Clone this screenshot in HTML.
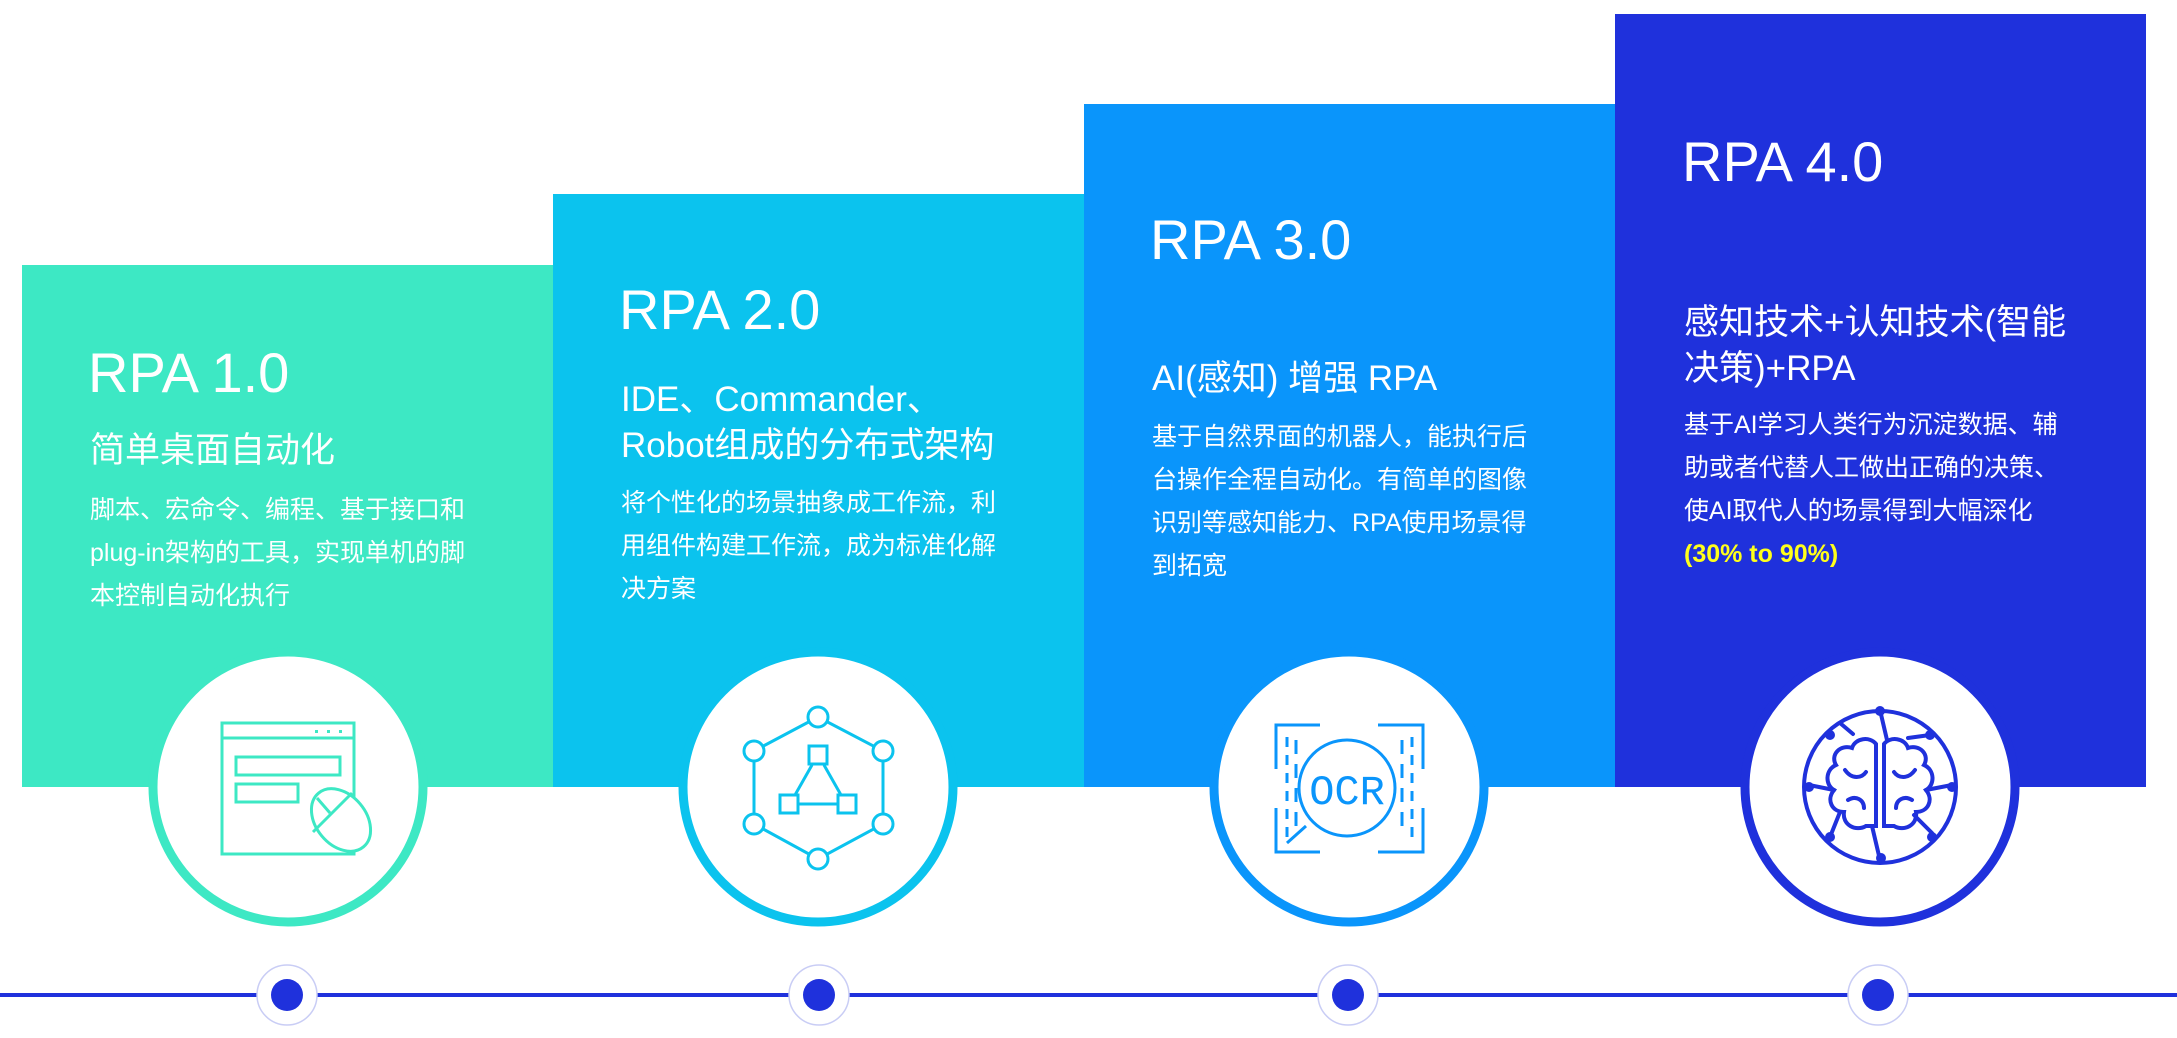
<!DOCTYPE html>
<html><head><meta charset="utf-8"><style>
body{margin:0;width:2177px;height:1038px;background:#fff;position:relative;overflow:hidden;font-family:"Liberation Sans","Noto Sans CJK SC",sans-serif;color:#fff}
.b{position:absolute}
.t{position:absolute;white-space:nowrap}
.h{font-size:56px;line-height:56px}
.s{font-size:35px;line-height:46px}
.p{font-size:25px;line-height:43px}
</style></head><body>
<div class="b" style="left:22px;top:265px;width:531px;height:522px;background:#3de8c4"></div>
<div class="b" style="left:553px;top:194px;width:531px;height:593px;background:#0bc3ee"></div>
<div class="b" style="left:1084px;top:104px;width:531px;height:683px;background:#0a95fb"></div>
<div class="b" style="left:1615px;top:14px;width:531px;height:773px;background:#1f31dc"></div>

<div class="t h" style="left:88px;top:345px">RPA 1.0</div>
<div class="t s" style="left:90px;top:428px">简单桌面自动化</div>
<div class="t p" style="left:90px;top:489px">脚本、宏命令、编程、基于接口和<br>plug-in架构的工具，实现单机的脚<br>本控制自动化执行</div>

<div class="t h" style="left:619px;top:282px">RPA 2.0</div>
<div class="t s" style="left:621px;top:377px">IDE、Commander、<br>Robot组成的分布式架构</div>
<div class="t p" style="left:621px;top:482px">将个性化的场景抽象成工作流，利<br>用组件构建工作流，成为标准化解<br>决方案</div>

<div class="t h" style="left:1150px;top:212px">RPA 3.0</div>
<div class="t s" style="left:1152px;top:356px">AI(感知) 增强 RPA</div>
<div class="t p" style="left:1152px;top:416px">基于自然界面的机器人，能执行后<br>台操作全程自动化。有简单的图像<br>识别等感知能力、RPA使用场景得<br>到拓宽</div>

<div class="t h" style="left:1682px;top:134px">RPA 4.0</div>
<div class="t s" style="left:1684px;top:300px">感知技术+认知技术(智能<br>决策)+RPA</div>
<div class="t p" style="left:1684px;top:404px">基于AI学习人类行为沉淀数据、辅<br>助或者代替人工做出正确的决策、<br>使AI取代人的场景得到大幅深化<br><b style="color:#ffff1a">(30% to 90%)</b></div>

<svg class="b" style="left:0;top:0" width="2177" height="1038" viewBox="0 0 2177 1038">
<g fill="#fff" stroke-width="9">
<circle cx="288" cy="787" r="135" stroke="#3de8c4"/>
<circle cx="818" cy="787" r="135" stroke="#0bc3ee"/>
<circle cx="1349" cy="787" r="135" stroke="#0a95fb"/>
<circle cx="1880" cy="787" r="135" stroke="#1f31dc"/>
</g>
<!-- icon1 -->
<g fill="none" stroke="#3de8c4" stroke-width="3">
<rect x="222" y="723" width="132" height="131"/>
<line x1="222" y1="738" x2="354" y2="738"/>
<rect x="236" y="757" width="104" height="18"/>
<rect x="236" y="784" width="62" height="18"/>
<ellipse cx="341" cy="820" rx="35" ry="25" transform="rotate(50 341 820)" fill="#fff"/>
<line x1="313" y1="832" x2="352" y2="793"/><line x1="317" y1="798" x2="330" y2="813"/>
</g>
<g fill="#3de8c4"><rect x="315" y="730" width="3" height="3"/><rect x="327" y="730" width="3" height="3"/><rect x="339" y="730" width="3" height="3"/></g>
<!-- icon2 -->
<g fill="#fff" stroke="#0bc3ee" stroke-width="3">
<polygon points="818,717 883,751 883,824 818,859 754,824 754,751" fill="none"/>
<line x1="812" y1="765" x2="795" y2="795"/><line x1="824" y1="765" x2="841" y2="795"/><line x1="798" y1="804" x2="838" y2="804"/>
<rect x="809" y="746" width="18" height="18"/><rect x="780" y="795" width="18" height="18"/><rect x="838" y="795" width="18" height="18"/>
<circle cx="818" cy="717" r="10"/><circle cx="754" cy="751" r="10"/><circle cx="883" cy="751" r="10"/>
<circle cx="754" cy="824" r="10"/><circle cx="883" cy="824" r="10"/><circle cx="818" cy="859" r="10"/>
</g>
<!-- icon3 -->
<g fill="none" stroke="#0a95fb" stroke-width="3">
<polyline points="1320,725 1276,725 1276,769"/><polyline points="1378,725 1423,725 1423,769"/>
<polyline points="1276,808 1276,852 1320,852"/><polyline points="1423,808 1423,852 1378,852"/>
<line x1="1287" y1="737" x2="1287" y2="840" stroke-dasharray="10 8"/><line x1="1296" y1="740" x2="1296" y2="830" stroke-dasharray="14 10"/>
<line x1="1412" y1="737" x2="1412" y2="840" stroke-dasharray="10 8"/><line x1="1402" y1="740" x2="1402" y2="830" stroke-dasharray="14 10"/>
<circle cx="1347" cy="788" r="48" fill="#fff"/>
<line x1="1287" y1="843" x2="1306" y2="826"/>
</g>
<text x="1347" y="804" text-anchor="middle" font-family="Liberation Mono,monospace" font-size="42" fill="#0a95fb">OCR</text>
<!-- icon4 -->
<g fill="none" stroke="#1f31dc" stroke-width="4" stroke-linecap="round">
<circle cx="1880" cy="787" r="76"/>
<path d="M1876 744 C1870 736 1855 738 1852 748 C1840 744 1830 755 1836 765 C1825 770 1825 785 1834 790 C1826 800 1832 812 1844 812 C1842 825 1856 832 1866 826 L1876 826 Z"/>
<path d="M1884 744 C1890 736 1905 738 1908 748 C1920 744 1930 755 1924 765 C1935 770 1935 785 1926 790 C1934 800 1928 812 1916 812 C1918 825 1904 832 1894 826 L1884 826 Z"/>
<path d="M1845 770 C1852 780 1862 778 1866 772 M1848 800 C1856 795 1864 800 1864 808 M1915 770 C1908 780 1898 778 1894 772 M1912 800 C1904 795 1896 800 1896 808"/>
<path d="M1880 710 L1887 740 M1853 734 L1840 723 M1908 738 L1930 735 M1834 790 L1809 785 M1926 790 L1952 785 M1840 812 L1830 837 M1914 815 L1932 833 M1872 826 L1880 860"/>
</g>
<g fill="#1f31dc"><circle cx="1880" cy="711" r="5"/><circle cx="1830" cy="735" r="5"/><circle cx="1930" cy="735" r="5"/><circle cx="1809" cy="787" r="5"/><circle cx="1952" cy="787" r="5"/><circle cx="1830" cy="837" r="5"/><circle cx="1932" cy="837" r="5"/><circle cx="1881" cy="858" r="5"/></g>
<!-- timeline -->
<rect x="0" y="993" width="2177" height="4" fill="#1f31dc"/>
<g fill="#fff" stroke="#c9cdf5" stroke-width="1.5">
<circle cx="287" cy="995" r="30"/><circle cx="819" cy="995" r="30"/><circle cx="1348" cy="995" r="30"/><circle cx="1878" cy="995" r="30"/>
</g>
<g fill="#1f31dc"><circle cx="287" cy="995" r="16"/><circle cx="819" cy="995" r="16"/><circle cx="1348" cy="995" r="16"/><circle cx="1878" cy="995" r="16"/></g>
</svg>
</body></html>
